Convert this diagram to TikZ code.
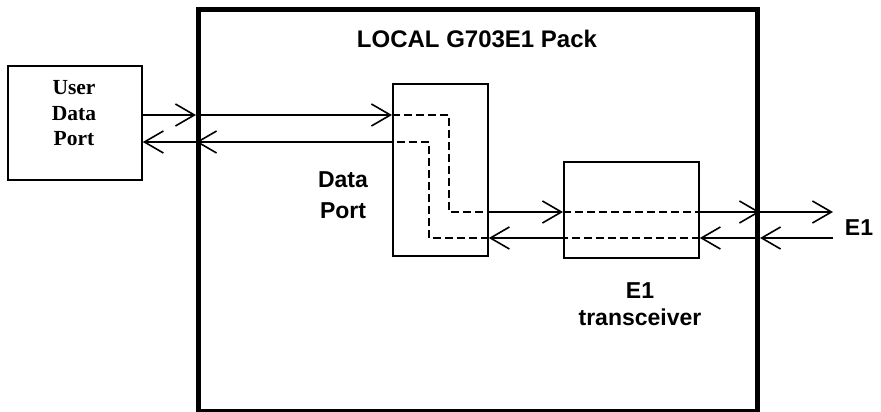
\documentclass[tikz,border=0pt]{standalone}
\usepackage{fontspec}
\setmainfont{Liberation Serif}
\setsansfont{Liberation Sans}
\usetikzlibrary{arrows.meta}
\begin{document}
\begin{tikzpicture}[x=1pt,y=-1pt,
  box/.style={draw,line width=1.8pt,inner sep=0pt,anchor=north west},
  conn/.style={line width=2pt,-{Straight Barb[length=19pt,width=22pt,line width=1.6pt]}},
  dsh/.style={line width=2pt,dash pattern=on 8pt off 4pt},
  lbl/.style={font=\sffamily\bfseries\fontsize{23}{31}\selectfont,align=center,inner sep=0pt,anchor=base},
  ulbl/.style={font=\rmfamily\bfseries\fontsize{21.5}{25}\selectfont,align=center,inner sep=0pt,anchor=base}]
\useasboundingbox (0,0) rectangle (881,412);
% big pack frame
\node[draw,line width=5pt,inner sep=0pt,anchor=north west,minimum width=559pt,minimum height=402pt] (pack) at (196,7) {};
\node[box,minimum width=134pt,minimum height=114pt] (user) at (7,65) {};
\node[box,minimum width=95pt,minimum height=172pt] (dport) at (392,83) {};
\node[box,minimum width=135pt,minimum height=96pt] (trx) at (563,161) {};
% texts
\node[lbl,font=\sffamily\bfseries\fontsize{24}{31}\selectfont] (title) at (477,48) {LOCAL G703E1 Pack};
\node[lbl] (dptxt1) at (343,187) {Data};
\node[lbl] (dptxt2) at (343,218) {Port};
\node[lbl] (trxt1) at (640,298) {E1};
\node[lbl] (trxt2) at (640,325) {transceiver};
\node[lbl] (e1) at (859,235) {E1};
\node[ulbl] (ut1) at (74,95) {User};
\node[ulbl] (ut2) at (74,120) {Data};
\node[ulbl] (ut3) at (74,145) {Port};
% port coordinates
\coordinate (a0) at (user.east |- 0,115);
\coordinate (a1) at (pack.west |- 0,115);
\coordinate (a2) at (dport.west |- 0,115);
\coordinate (a3) at (449,115);
\coordinate (a4) at (449,212);
\coordinate (a5) at (dport.east |- 0,212);
\coordinate (a6) at (trx.west |- 0,212);
\coordinate (a7) at (trx.east |- 0,212);
\coordinate (a8) at (pack.east |- 0,212);
\coordinate (a9) at (833,212);
\coordinate (b0) at (833,238);
\coordinate (b1) at (pack.east |- 0,238);
\coordinate (b2) at (trx.east |- 0,238);
\coordinate (b3) at (trx.west |- 0,238);
\coordinate (b4) at (dport.east |- 0,238);
\coordinate (b5) at (429,238);
\coordinate (b6) at (429,142);
\coordinate (b7) at (dport.west |- 0,142);
\coordinate (b8) at (pack.west |- 0,142);
\coordinate (b9) at (user.east |- 0,142);
% upper path
\draw[conn] (a0) -- (a1);
\draw[conn] (a1) -- (a2);
\draw[dsh] (a2) -- (a3) -- (a4) -- (a5);
\draw[conn] (a5) -- (a6);
\draw[dsh] (a6) -- (a7);
\draw[conn] (a7) -- (a8);
\draw[conn] (a8) -- (a9);
% lower path
\draw[conn] (b0) -- (b1);
\draw[conn] (b1) -- (b2);
\draw[dsh] (b2) -- (b3);
\draw[conn] (b3) -- (b4);
\draw[dsh] (b4) -- (b5) -- (b6) -- (b7);
\draw[conn] (b7) -- (b8);
\draw[conn] (b8) -- (b9);
\end{tikzpicture}
\end{document}
